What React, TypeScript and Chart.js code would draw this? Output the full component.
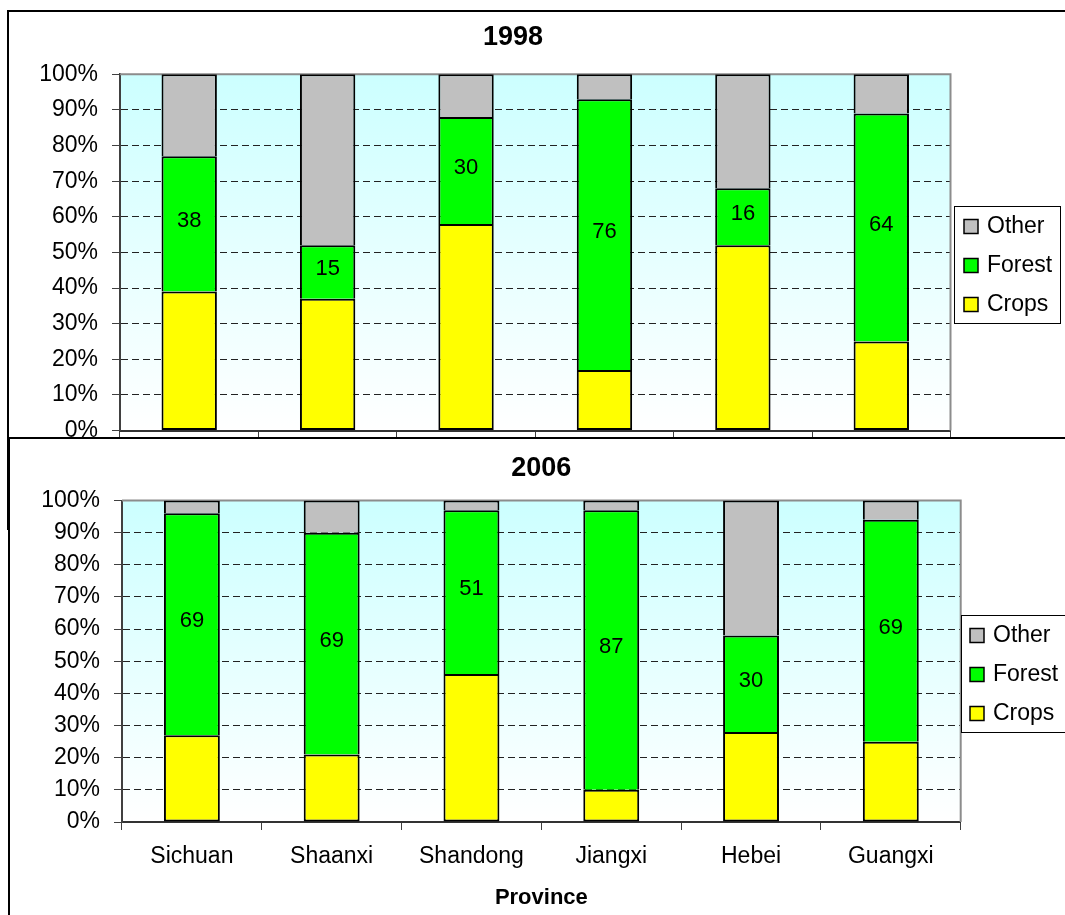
import React, { useEffect, useRef } from 'react';
import { Chart, registerables } from 'chart.js';

Chart.register(...registerables);

const FONT = "'Liberation Sans', Arial, Helvetica, sans-serif";

// Land use share by province (percent of total area)
const provinces = ['Sichuan', 'Shaanxi', 'Shandong', 'Jiangxi', 'Hebei', 'Guangxi'];

const crops1998 = [39, 37, 58, 17, 52, 25];
const forest1998 = [38, 15, 30, 76, 16, 64];
const other1998 = [23, 48, 12, 7, 32, 11];

const crops2006 = [27, 21, 46, 10, 28, 25];
const forest2006 = [69, 69, 51, 87, 30, 69];
const other2006 = [4, 10, 3, 3, 42, 6];

const seriesNames = ['Crops', 'Forest', 'Other'];
const seriesColors = ['#FFFF00', '#00FF00', '#C0C0C0'];
const axisTitle = 'Province';

// Cyan-to-white plot fill plus the grey top/right plot border
const plotBackdrop = {
  id: 'plotBackdrop',
  beforeDraw(chart: any) {
    const { ctx, chartArea: a } = chart;
    const g = ctx.createLinearGradient(0, a.top, 0, a.bottom);
    g.addColorStop(0, '#CCFFFF');
    g.addColorStop(1, '#FFFFFF');
    ctx.save();
    ctx.fillStyle = g;
    ctx.fillRect(a.left, a.top, a.right - a.left, a.bottom - a.top);
    ctx.restore();
  },
  beforeDatasetsDraw(chart: any) {
    const { ctx, chartArea: a } = chart;
    ctx.save();
    ctx.strokeStyle = '#8c8c8c';
    ctx.lineWidth = 2;
    ctx.beginPath();
    ctx.moveTo(a.left, a.top);
    ctx.lineTo(a.right, a.top);
    ctx.lineTo(a.right, a.bottom);
    ctx.stroke();
    ctx.restore();
  },
};

// Bold chart heading; centred on the plot unless an explicit x is given
const heading = {
  id: 'heading',
  afterDraw(chart: any, _args: any, o: any) {
    const { ctx, chartArea: a } = chart;
    const x = o.x == null ? (a.left + a.right) / 2 : o.x;
    ctx.save();
    ctx.font = `bold 27px ${FONT}`;
    ctx.fillStyle = '#000';
    ctx.textAlign = 'center';
    ctx.textBaseline = 'middle';
    ctx.fillText(o.text, x, o.y);
    ctx.restore();
  },
};

// Value printed in the middle of one dataset's segments
const segmentLabels = {
  id: 'segmentLabels',
  afterDatasetsDraw(chart: any, _args: any, opts: any) {
    const { ctx } = chart;
    const idx = opts.datasetIndex;
    const meta = chart.getDatasetMeta(idx);
    const values = chart.data.datasets[idx].data;
    ctx.save();
    ctx.font = `22px ${FONT}`;
    ctx.fillStyle = '#000';
    ctx.textAlign = 'center';
    ctx.textBaseline = 'middle';
    meta.data.forEach((bar: any, i: number) => {
      const { x, y, base } = bar.getProps(['x', 'y', 'base'], true);
      ctx.fillText(String(values[i]), x, (y + base) / 2 + opts.offsetY);
    });
    ctx.restore();
  },
};

// Framed legend box listing the series top-down (Other, Forest, Crops)
const boxLegend = {
  id: 'boxLegend',
  afterDraw(chart: any, _args: any, o: any) {
    const { ctx } = chart;
    ctx.save();
    ctx.fillStyle = '#fff';
    ctx.fillRect(o.left, o.top, o.width, o.height);
    ctx.strokeStyle = '#000';
    ctx.lineWidth = 1;
    ctx.strokeRect(o.left + 0.5, o.top + 0.5, o.width, o.height);
    ctx.font = `23px ${FONT}`;
    ctx.textBaseline = 'middle';
    ctx.textAlign = 'left';
    const sets = chart.data.datasets.slice().reverse();
    sets.forEach((ds: any, i: number) => {
      const cy = o.top + o.firstRow + i * o.rowGap;
      const mx = o.left + o.markerX;
      const my = cy - o.markerSize / 2;
      ctx.fillStyle = ds.backgroundColor;
      ctx.fillRect(mx, my, o.markerSize, o.markerSize);
      ctx.strokeStyle = '#000';
      ctx.lineWidth = 1.5;
      ctx.strokeRect(mx, my, o.markerSize, o.markerSize);
      ctx.fillStyle = '#000';
      ctx.fillText(ds.label, o.left + o.textX, cy);
    });
    ctx.restore();
  },
};

function buildDatasets(crops: number[], forest: number[], other: number[]) {
  const values = [crops, forest, other];
  return values.map((data, i) => ({
    label: seriesNames[i],
    data,
    backgroundColor: seriesColors[i],
    borderColor: '#000',
    borderSkipped: false as const,
    borderWidth: i === 0
      ? { top: 2, left: 2, right: 2, bottom: 2 }
      : { top: 2, left: 2, right: 2, bottom: 0 },
    barPercentage: 0.4,
    categoryPercentage: 1,
  }));
}

interface PanelLayout {
  year: string;
  titleX: number | null;
  titleY: number;
  padTop: number;
  padRight: number;
  xHeight: number;
  showCategories: boolean;
  legend: { left: number; top: number; width: number; height: number; markerX: number; textX: number };
}

function buildConfig(crops: number[], forest: number[], other: number[], p: PanelLayout): any {
  return {
    type: 'bar',
    data: { labels: provinces, datasets: buildDatasets(crops, forest, other) },
    plugins: [plotBackdrop, segmentLabels, boxLegend, heading],
    options: {
      responsive: false,
      animation: false,
      devicePixelRatio: 1,
      layout: { padding: { left: 0, right: p.padRight, top: p.padTop, bottom: 0 } },
      plugins: {
        legend: { display: false },
        tooltip: { enabled: false },
        title: { display: false },
        heading: { text: p.year, x: p.titleX, y: p.titleY },
        segmentLabels: { datasetIndex: 1, offsetY: -3 },
        boxLegend: { ...p.legend, firstRow: 20.5, rowGap: 39, markerSize: 14 },
      },
      scales: {
        x: {
          stacked: true,
          offset: true,
          afterFit: (s: any) => { s.height = p.xHeight; },
          grid: {
            offset: true,
            drawOnChartArea: false,
            drawTicks: true,
            tickLength: 8,
            color: '#404040',
            lineWidth: 1,
          },
          border: { color: '#333', width: 2 },
          ticks: {
            display: p.showCategories,
            color: '#000',
            padding: 13,
            font: { family: FONT, size: 23, lineHeight: 1.2 },
          },
          title: {
            display: p.showCategories,
            text: axisTitle,
            color: '#000',
            font: { family: FONT, size: 22, weight: 'bold', lineHeight: 1.2 },
            padding: { top: 0, bottom: 4 },
          },
        },
        y: {
          stacked: true,
          min: 0,
          max: 100,
          afterFit: (s: any) => { s.width = p.yWidth ?? 112; },
          grid: {
            color: (c: any) => (c.tick && (c.tick.value === 0 || c.tick.value === 100)) ? 'rgba(0,0,0,0)' : '#222',
            lineWidth: 1,
            tickColor: '#404040',
            tickLength: 8,
            tickBorderDash: [],
          },
          border: { color: '#404040', width: 2, dash: [7, 4] },
          ticks: {
            stepSize: 10,
            color: '#000',
            padding: 14,
            font: { family: FONT, size: 23 },
            callback: (v: any) => `${v}%`,
          },
        },
      },
    },
  };
}

export default function App() {
  const topRef = useRef<HTMLCanvasElement>(null);
  const bottomRef = useRef<HTMLCanvasElement>(null);

  useEffect(() => {
    const topCfg = buildConfig(crops1998, forest1998, other1998, {
      year: '1998',
      titleX: 504,
      titleY: 26,
      padTop: 62.3,
      padRight: 114.5,
      xHeight: 97.5,
      showCategories: false,
      legend: { left: 945, top: 194, width: 106, height: 117, markerX: 10, textX: 33 },
    });
    topCfg.options.scales.y.afterFit = (s: any) => { s.width = 111; };
    const bottomCfg = buildConfig(crops2006, forest2006, other2006, {
      year: '2006',
      titleX: null,
      titleY: 29.7,
      padTop: 61.5,
      padRight: 104.3,
      xHeight: 93,
      showCategories: true,
      legend: { left: 951, top: 176, width: 120, height: 117, markerX: 9, textX: 32 },
    });
    bottomCfg.options.scales.y.afterFit = (s: any) => { s.width = 112; };
    const top = new Chart(topRef.current as HTMLCanvasElement, topCfg);
    const bottom = new Chart(bottomRef.current as HTMLCanvasElement, bottomCfg);
    return () => {
      top.destroy();
      bottom.destroy();
    };
  }, []);

  return (
    <div style={{ position: 'fixed', left: 0, top: 0, width: 1065, height: 915, overflow: 'hidden', background: '#fff' }}>
      <div style={{ position: 'absolute', left: 7, top: 10, width: 1100, height: 520, border: '2px solid #000', boxSizing: 'border-box', background: '#fff' }}>
        <canvas ref={topRef} width={1056} height={516} style={{ position: 'absolute', left: 0, top: 0, width: 1056, height: 516 }} />
      </div>
      <div style={{ position: 'absolute', left: 8, top: 437, width: 1100, height: 520, borderLeft: '2px solid #000', borderTop: '2px solid #000', boxSizing: 'border-box', background: '#fff' }}>
        <canvas ref={bottomRef} width={1055} height={476} style={{ position: 'absolute', left: 0, top: 0, width: 1055, height: 476 }} />
      </div>
    </div>
  );
}
